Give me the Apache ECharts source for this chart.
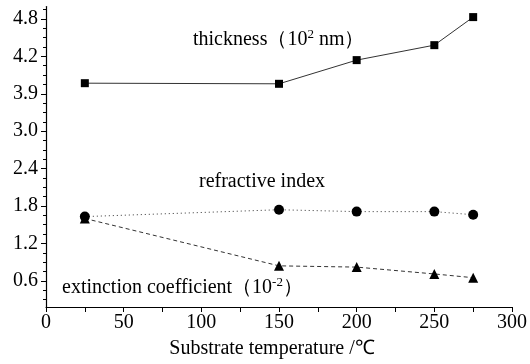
<!DOCTYPE html>
<html>
<head>
<meta charset="utf-8">
<script src="https://cdn.jsdelivr.net/npm/echarts@6/dist/echarts.min.js"></script>
<style>
  html, body { margin: 0; padding: 0; background: #fff; }
  #chart { width: 530px; height: 364px; }
</style>
</head>
<body>
<div id="chart"></div>
<script>
const temps = [25, 150, 200, 250, 275];
const thickness = [3.77, 3.76, 4.14, 4.38, 4.83];
const refractive = [1.63, 1.74, 1.71, 1.71, 1.66];
const extinction = [1.60, 0.84, 0.82, 0.71, 0.65];

// y axis tick positions and the labels printed on them (the source prints 3.9 at the 3.6 mark)
const yTickValues = [0.6, 1.2, 1.8, 2.4, 3.0, 3.6, 4.2, 4.8];
const yTickLabels = ['0.6', '1.2', '1.8', '2.4', '3.0', '3.9', '4.2', '4.8'];
const yMinorValues = [0.3, 0.45, 0.75, 0.9, 1.05, 1.35, 1.5, 1.65, 1.95, 2.1, 2.25,
  2.55, 2.7, 2.85, 3.15, 3.3, 3.45, 3.75, 3.9, 4.05, 4.35, 4.5, 4.65, 4.95];

const FONT = '"Liberation Serif", "Times New Roman", serif';
const chart = echarts.init(document.getElementById('chart'));

const yLabel = v => {
  for (let i = 0; i < yTickValues.length; i++) {
    if (Math.abs(yTickValues[i] - v) < 1e-6) return yTickLabels[i];
  }
  return '';
};

const lineSeries = (name, data, symbol, size, lineType) => ({
  name,
  type: 'line',
  data: temps.map((t, i) => [t, data[i]]),
  symbol,
  symbolSize: size,
  showSymbol: true,
  itemStyle: { color: '#000' },
  lineStyle: { color: '#333', width: 1, type: lineType },
  animation: false
});

chart.setOption({
  backgroundColor: '#fff',
  grid: { left: 46, right: 15, top: 6.5, bottom: 57 },
  xAxis: {
    type: 'value',
    min: 0,
    max: 300,
    interval: 50,
    name: 'Substrate temperature /℃',
    nameLocation: 'middle',
    nameGap: 32,
    nameTextStyle: { fontFamily: FONT, fontSize: 20, color: '#000', padding: [0, 14, 0, 0] },
    axisLine: { lineStyle: { color: '#000', width: 1.2 } },
    axisTick: { length: 5, lineStyle: { color: '#000' } },
    minorTick: { show: true, splitNumber: 2, length: 5, lineStyle: { color: '#000' } },
    axisLabel: { fontFamily: FONT, fontSize: 20, color: '#000', margin: 6 },
    splitLine: { show: false }
  },
  yAxis: [{
    type: 'value',
    min: 0.18,
    max: 5.0,
    axisLine: { show: true, lineStyle: { color: '#000', width: 1.2 } },
    axisTick: { show: true, length: 5, customValues: yTickValues, lineStyle: { color: '#000' } },
    axisLabel: { fontFamily: FONT, fontSize: 20, color: '#000', margin: 8,
      customValues: yTickValues, formatter: yLabel },
    splitLine: { show: false }
  }, {
    type: 'value',
    min: 0.18,
    max: 5.0,
    position: 'left',
    axisLine: { show: false },
    axisTick: { show: true, length: 3, customValues: yMinorValues, lineStyle: { color: '#000' } },
    axisLabel: { show: false },
    splitLine: { show: false }
  }],
  series: [
    lineSeries('thickness', thickness, 'rect', 8, 'solid'),
    lineSeries('refractive index', refractive, 'circle', 10, [1, 3]),
    lineSeries('extinction coefficient', extinction, 'triangle', 10, [4, 3])
  ],
  graphic: [
    {
      type: 'text', x: 193, y: 40,
      style: {
        text: '{a|thickness（10}{s|2}{a| nm）}',
        textVerticalAlign: 'middle',
        rich: {
          a: { fontFamily: FONT, fontSize: 20, color: '#000', lineHeight: 24 },
          s: { fontFamily: FONT, fontSize: 13, color: '#000', verticalAlign: 'top', lineHeight: 24 }
        }
      }
    },
    {
      type: 'text', x: 199, y: 182,
      style: {
        text: 'refractive index',
        font: '20px ' + FONT,
        fill: '#000',
        textVerticalAlign: 'middle'
      }
    },
    {
      type: 'text', x: 62, y: 288,
      style: {
        text: '{a|extinction coefficient（10}{s|-2}{a|）}',
        textVerticalAlign: 'middle',
        rich: {
          a: { fontFamily: FONT, fontSize: 20, color: '#000', lineHeight: 24 },
          s: { fontFamily: FONT, fontSize: 13, color: '#000', verticalAlign: 'top', lineHeight: 24 }
        }
      }
    }
  ]
});
</script>
</body>
</html>
